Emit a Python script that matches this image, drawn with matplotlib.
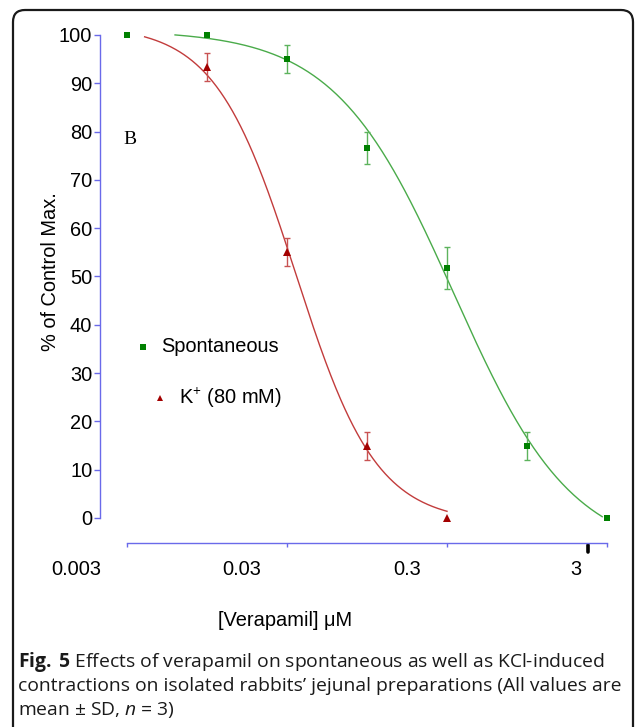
import numpy as np
import matplotlib
matplotlib.use("Agg")
import matplotlib.pyplot as plt
from matplotlib.patches import FancyBboxPatch
from matplotlib.transforms import ScaledTranslation

plt.rcParams['font.family'] = ['Liberation Sans', 'DejaVu Sans']
plt.rcParams['mathtext.fontset'] = 'custom'
plt.rcParams['mathtext.rm'] = 'Open Sans'
plt.rcParams['mathtext.it'] = 'Open Sans:italic'
plt.rcParams['mathtext.bf'] = 'Open Sans:bold'

# x is log10 of verapamil concentration (uM)
spont_dose = [-2.5, -2.0, -1.5, -1.0, -0.5, 0.0, 0.5]
spont_mean = [100, 100, 95.0, 76.6, 51.8, 15.0, 0]
spont_sd = [0, 0, 2.9, 3.3, 4.3, 2.9, 0]

k_dose = [-2.0, -1.5, -1.0, -0.5]
k_mean = [93.4, 55.1, 15.0, 0]
k_sd = [2.9, 2.9, 2.9, 0]

# sigmoid fits: top, bottom, logIC50, hill slope
spont_fit = (101, -8, -0.458, 1.17)
spont_span = (-2.2, 0.47)
k_fit = (102, -1, -1.445, 1.72)
k_span = (-2.39, -0.5)

xtick_pos = [-2.5, -1.5, -0.5, 0.5]
xtick_lab = ["0.003", "0.03", "0.3", "3"]
ytick_pos = list(range(0, 101, 10))

green = '#008000'
green_line = '#4aab4a'
green_err = '#5db35d'
red = '#a30000'
red_line = '#c23c3c'
red_err = '#c85252'
axis_col = '#6a6aea'
fs = 14.4


def hill(x, top, bottom, logic50, slope):
    return bottom + (top - bottom) / (1 + 10 ** ((x - logic50) * slope))


fig = plt.figure(figsize=(6.36, 7.27), dpi=100)
ax = fig.add_axes([100 / 636, 0.2531, 516.6 / 636, 0.7121])
ax.set_xlim(-2.669, 0.56)
ax.set_ylim(-5.18, 102)

# fitted curves
for fit, span, col in [(spont_fit, spont_span, green_line), (k_fit, k_span, red_line)]:
    xs = np.linspace(span[0], span[1], 300)
    ax.plot(xs, hill(xs, *fit), color=col, lw=1.0, zorder=2)

# error bars (only where SD was shown)
for dose, mean, sd, col in [(spont_dose, spont_mean, spont_sd, green_err),
                            (k_dose, k_mean, k_sd, red_err)]:
    d = np.array(dose); m = np.array(mean); s = np.array(sd)
    keep = s > 0
    ax.errorbar(d[keep], m[keep], yerr=s[keep], fmt='none', ecolor=col,
                elinewidth=1.0, capsize=2.4, capthick=1.0, zorder=3)

ax.plot(spont_dose, spont_mean, 's', color=green, ms=5, mew=0, zorder=4, clip_on=False)
ax.plot(k_dose, k_mean, '^', color=red, ms=5.5, mew=0, zorder=4, clip_on=False)

# axes styling
for s in ['top', 'right']:
    ax.spines[s].set_visible(False)
ax.spines['left'].set_bounds(0, 100)
ax.spines['bottom'].set_bounds(-2.5, 0.5)
for s in ['left', 'bottom']:
    ax.spines[s].set_color(axis_col)
    ax.spines[s].set_linewidth(1.0)

ax.set_yticks(ytick_pos)
ax.set_xticks(xtick_pos, xtick_lab)
ax.tick_params(axis='y', direction='out', length=4, width=1, color=axis_col,
               labelsize=fs, pad=1.5)
ax.tick_params(axis='x', direction='out', length=3, width=1, color=axis_col,
               labelsize=fs, pad=9)
for lab in ax.get_xticklabels():
    lab.set_horizontalalignment('right')
    lab.set_transform(lab.get_transform() + ScaledTranslation(-0.26, 0, fig.dpi_scale_trans))

ax.set_ylabel("% of Control Max.", fontsize=fs)
ax.yaxis.set_label_coords(-0.077, 0.525)
ax.set_xlabel("[Verapamil] \u03bcM", fontsize=fs)
ax.xaxis.set_label_coords(0.358, -0.131)

# stray mark on the x axis
ax.plot([0.379, 0.379], [-5.6, -7.0], color='black', lw=2.6,
        solid_capstyle='round', clip_on=False)

ax.text(-2.48, 78.3, "B", family='Liberation Serif', fontsize=14,
        ha='center', va='center')

# legend drawn by hand
ax.plot([0.0827], [0.3792], 's', color=green, ms=4.5, mew=0,
        transform=ax.transAxes, clip_on=False)
ax.text(0.118, 0.3792, "Spontaneous", fontsize=fs, va='center',
        transform=ax.transAxes)
ax.plot([0.1161], [0.2801], '^', color=red, ms=4, mew=0,
        transform=ax.transAxes, clip_on=False)
ax.text(0.1529, 0.2801, r"K$^{\mathrm{+}}$ (80 mM)", fontsize=fs, va='center',
        transform=ax.transAxes)

# panel frame
frame = FancyBboxPatch((0.13, -0.5), 6.2, 7.67,
                       boxstyle='round,pad=0,rounding_size=0.12',
                       transform=fig.dpi_scale_trans, fill=False,
                       lw=1.6, ec='#1a1a1a', clip_on=False)
fig.add_artist(frame)

# caption
cap = dict(fontsize=13.9, family='Open Sans', va='center', color='#1a1a1a')
fig.text(18 / 636, 1 - 662 / 727,
         r"$\mathbf{Fig.\;5}$ Effects of verapamil on spontaneous as well as KCl-induced", **cap)
fig.text(18 / 636, 1 - 686 / 727,
         "contractions on isolated rabbits\u2019 jejunal preparations (All values are", **cap)
fig.text(18 / 636, 1 - 710 / 727, "mean \u00b1 SD, $\\mathit{n}$ = 3)", **cap)

fig.savefig("out.png", dpi=100)
